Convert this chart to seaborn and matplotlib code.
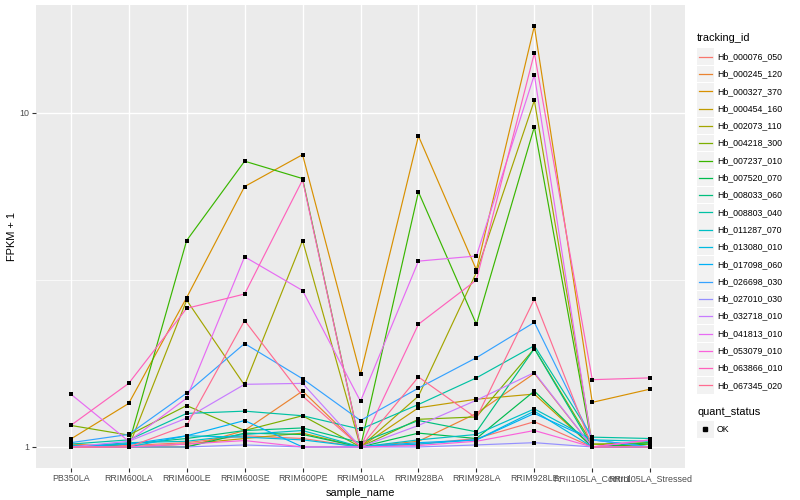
import numpy as np
import pandas as pd
import matplotlib
matplotlib.use("Agg")
import matplotlib.pyplot as plt
import seaborn as sns
from matplotlib.lines import Line2D
from matplotlib.patches import Rectangle
from matplotlib.ticker import FixedLocator, FixedFormatter, NullFormatter

plt.rcParams['font.family'] = ['Liberation Sans', 'DejaVu Sans']

samples = ["PB350LA", "RRIM600LA", "RRIM600LE", "RRIM600SE", "RRIM600PE",
           "RRIM901LA", "RRIM928BA", "RRIM928LA", "RRIM928LE",
           "RRII105LA_Control", "RRII105LA_Stressed"]

tracking_ids = ["Hb_000076_050", "Hb_000245_120", "Hb_000327_370", "Hb_000454_160",
                "Hb_002073_110", "Hb_004218_300", "Hb_007237_010", "Hb_007520_070",
                "Hb_008033_060", "Hb_008803_040", "Hb_011287_070", "Hb_013080_010",
                "Hb_017098_060", "Hb_026698_030", "Hb_027010_030", "Hb_032718_010",
                "Hb_041813_010", "Hb_053079_010", "Hb_063866_010", "Hb_067345_020"]

colors = ["#F8766D", "#EA8331", "#D89000", "#C09B00", "#A3A500", "#7CAE00",
          "#39B600", "#00BB4E", "#00BF7D", "#00C1A3", "#00BFC4", "#00BAE0",
          "#00B0F6", "#35A2FF", "#9590FF", "#C77CFF", "#E76BF3", "#FA62DB",
          "#FF62BC", "#FF6C91"]

# FPKM + 1 per sample (same order as samples)
hb_000076_050 = [1.00, 1.01, 1.03, 1.08, 1.06, 1.00, 1.02, 1.06, 1.19, 1.00, 1.00]
hb_000245_120 = [1.02, 1.00, 1.00, 1.12, 1.47, 1.00, 1.04, 1.26, 1.66, 1.00, 1.00]
hb_000327_370 = [1.056, 1.35, 2.80, 6.02, 7.50, 1.65, 8.53, 3.39, 18.2, 1.36, 1.49]
hb_000454_160 = [1.00, 1.00, 1.02, 1.06, 1.10, 1.00, 1.31, 1.39, 1.44, 1.00, 1.00]
hb_002073_110 = [1.00, 1.00, 2.75, 1.53, 4.15, 1.00, 1.42, 3.33, 10.9, 1.02, 1.00]
hb_004218_300 = [1.16, 1.085, 1.33, 1.12, 1.24, 1.00, 1.21, 1.23, 1.97, 1.02, 1.03]
hb_007237_010 = [1.00, 1.02, 4.15, 7.17, 6.36, 1.00, 5.80, 2.33, 9.08, 1.00, 1.02]
hb_007520_070 = [1.01, 1.00, 1.00, 1.10, 1.09, 1.00, 1.10, 1.06, 1.47, 1.00, 1.03]
hb_008033_060 = [1.00, 1.02, 1.06, 1.12, 1.14, 1.03, 1.20, 1.11, 1.97, 1.00, 1.00]
hb_008803_040 = [1.02, 1.05, 1.26, 1.28, 1.24, 1.13, 1.34, 1.61, 2.01, 1.07, 1.06]
hb_011287_070 = [1.00, 1.03, 1.04, 1.09, 1.12, 1.00, 1.05, 1.09, 1.30, 1.05, 1.04]
hb_013080_010 = [1.01, 1.00, 1.08, 1.07, 1.05, 1.00, 1.02, 1.05, 1.28, 1.00, 1.00]
hb_017098_060 = [1.00, 1.02, 1.08, 1.20, 1.00, 1.00, 1.03, 1.05, 1.26, 1.05, 1.00]
hb_026698_030 = [1.03, 1.09, 1.45, 2.04, 1.60, 1.20, 1.50, 1.85, 2.36, 1.05, 1.00]
hb_027010_030 = [1.00, 1.00, 1.00, 1.014, 1.00, 1.00, 1.00, 1.014, 1.03, 1.00, 1.00]
hb_032718_010 = [1.00, 1.04, 1.22, 1.54, 1.55, 1.00, 1.16, 1.38, 1.67, 1.00, 1.00]
hb_041813_010 = [1.44, 1.04, 1.40, 3.71, 2.94, 1.37, 3.60, 3.73, 13.0, 1.00, 1.05]
hb_053079_010 = [1.00, 1.00, 1.02, 1.045, 1.00, 1.00, 1.01, 1.04, 1.12, 1.00, 1.05]
hb_063866_010 = [1.16, 1.55, 2.60, 2.87, 6.30, 1.00, 2.33, 3.16, 15.1, 1.59, 1.61]
hb_067345_020 = [1.00, 1.00, 1.16, 2.39, 1.42, 1.00, 1.62, 1.22, 2.77, 1.00, 1.00]

series = [hb_000076_050, hb_000245_120, hb_000327_370, hb_000454_160, hb_002073_110,
          hb_004218_300, hb_007237_010, hb_007520_070, hb_008033_060, hb_008803_040,
          hb_011287_070, hb_013080_010, hb_017098_060, hb_026698_030, hb_027010_030,
          hb_032718_010, hb_041813_010, hb_053079_010, hb_063866_010, hb_067345_020]

quant_levels = ["OK"]

rows = []
for tid, vals in zip(tracking_ids, series):
    for s, v in zip(samples, vals):
        rows.append({"tracking_id": tid, "sample_name": s, "fpkm": v, "quant_status": "OK"})
df = pd.DataFrame(rows)
df["sample_name"] = pd.Categorical(df["sample_name"], categories=samples, ordered=True)
df["x"] = df["sample_name"].cat.codes

W, H = 800, 500
fig = plt.figure(figsize=(W / 100, H / 100), dpi=100)
px0, px1, py0, py1 = 36, 685, 5, 468
ax = fig.add_axes([px0 / W, 1 - py1 / H, (px1 - px0) / W, (py1 - py0) / H])
ax.set_facecolor("#EBEBEB")
for sp in ax.spines.values():
    sp.set_visible(False)

palette = dict(zip(tracking_ids, colors))
sns.lineplot(data=df, x="x", y="fpkm", hue="tracking_id", hue_order=tracking_ids,
             palette=palette, units="tracking_id", estimator=None, sort=True,
             linewidth=0.85, legend=False, ax=ax, zorder=3)
sns.scatterplot(data=df, x="x", y="fpkm", color="black", marker="s", s=10,
                linewidth=0, legend=False, ax=ax, zorder=4)

ax.set_yscale("log")
lo, hi = np.log10(df["fpkm"].min()), np.log10(df["fpkm"].max())
pad = 0.05 * (hi - lo)
ax.set_ylim(10 ** (lo - pad), 10 ** (hi + pad))
ax.set_xlim(-0.6, len(samples) - 1 + 0.6)

ax.yaxis.set_major_locator(FixedLocator([1, 10]))
ax.yaxis.set_major_formatter(FixedFormatter(["1", "10"]))
ax.yaxis.set_minor_locator(FixedLocator([10 ** 0.5]))
ax.yaxis.set_minor_formatter(NullFormatter())
ax.set_xticks(range(len(samples)))
ax.set_xticklabels(samples)

ax.grid(which="major", color="white", linewidth=1.0, zorder=0)
ax.grid(which="minor", axis="y", color="white", linewidth=0.5, zorder=0)
ax.set_axisbelow(True)
ax.tick_params(which="major", length=2.6, width=0.8, color="#333333",
               labelcolor="#4D4D4D", labelsize=6.4, pad=2)
ax.tick_params(which="minor", length=0)

ax.set_xlabel("sample_name", fontsize=7.9, color="black", labelpad=3)
ax.set_ylabel("FPKM + 1", fontsize=7.9, color="black", labelpad=2)

# legends (drawn in figure pixel coordinates, ggplot style)
def fx(p):
    return p / W

def fy(p):
    return 1 - p / H

kx0, kw, pitch = 697, 16.5, 17.3
fig.text(fx(kx0), fy(38), "tracking_id", fontsize=7.9, va="center", ha="left")
for i, (tid, c) in enumerate(zip(tracking_ids, colors)):
    yc = 56.7 + i * pitch
    fig.add_artist(Rectangle((fx(kx0), fy(yc + pitch / 2 - 0.4)), kw / W, (pitch - 0.8) / H,
                             transform=fig.transFigure, facecolor="#F2F2F2",
                             edgecolor="none"))
    fig.add_artist(Line2D([fx(kx0 + 1.5), fx(kx0 + kw - 1.5)], [fy(yc), fy(yc)],
                          transform=fig.transFigure, color=c, lw=0.9))
    fig.text(fx(kx0 + kw + 3.5), fy(yc), tid, fontsize=6.3, va="center", ha="left")

fig.text(fx(kx0), fy(412), "quant_status", fontsize=7.9, va="center", ha="left")
for j, q in enumerate(quant_levels):
    yc = 429.3 + j * pitch
    fig.add_artist(Rectangle((fx(kx0), fy(yc + pitch / 2 - 0.4)), kw / W, (pitch - 0.8) / H,
                             transform=fig.transFigure, facecolor="#F2F2F2",
                             edgecolor="none"))
    fig.add_artist(Line2D([fx(kx0 + kw / 2)], [fy(yc)], transform=fig.transFigure,
                          color="black", marker="s", ms=3.2, lw=0))
    fig.text(fx(kx0 + kw + 3.5), fy(yc), q, fontsize=6.3, va="center", ha="left")

fig.savefig("out.png", dpi=100)
